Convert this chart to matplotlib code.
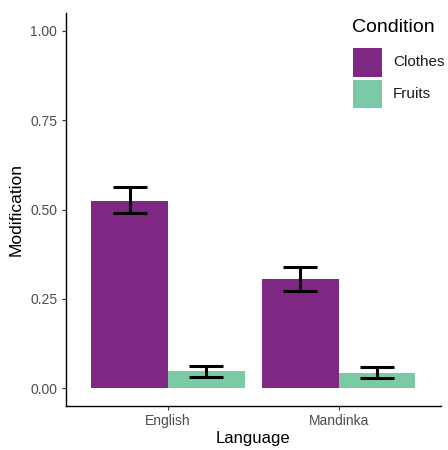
import matplotlib
matplotlib.use("Agg")
import matplotlib.pyplot as plt
from matplotlib.patches import Rectangle
import numpy as np

plt.rcParams['font.family'] = ['Liberation Sans', 'DejaVu Sans']

languages = ["English", "Mandinka"]
conditions = ["Clothes", "Fruits"]
means = {"Clothes": [0.525, 0.305], "Fruits": [0.047, 0.042]}
lower = {"Clothes": [0.490, 0.273], "Fruits": [0.031, 0.028]}
upper = {"Clothes": [0.564, 0.340], "Fruits": [0.063, 0.059]}
colors = {"Clothes": "#7E2884", "Fruits": "#7CCAA5"}
yticks = [0.00, 0.25, 0.50, 0.75, 1.00]
ytick_labels = ["0.00", "0.25", "0.50", "0.75", "1.00"]

W, H = 448, 450
fig = plt.figure(figsize=(W / 100, H / 100), dpi=100)
ax = fig.add_axes([65.7 / W, 1 - 406 / H, (441 - 65.7) / W, (406 - 13) / H])

x = np.arange(1, len(languages) + 1)
bw = 0.45
offsets = {"Clothes": -bw / 2, "Fruits": bw / 2}
for c in conditions:
    xs = x + offsets[c]
    m = np.array(means[c])
    ax.bar(xs, m, width=bw, color=colors[c], linewidth=0, zorder=2)
    yerr = np.vstack([m - np.array(lower[c]), np.array(upper[c]) - m])
    ax.errorbar(xs, m, yerr=yerr, fmt="none", ecolor="black", elinewidth=2.2,
                capsize=12, capthick=2.2, zorder=3)

ax.set_xlim(0.4, 2.6)
ax.set_ylim(-0.05, 1.05)
ax.set_xticks(x)
ax.set_xticklabels(languages)
ax.set_yticks(yticks)
ax.set_yticklabels(ytick_labels)
for s in ["top", "right"]:
    ax.spines[s].set_visible(False)
for s in ["left", "bottom"]:
    ax.spines[s].set_linewidth(1.0)
    ax.spines[s].set_color("black")
ax.tick_params(axis="both", length=3, width=0.8, color="#333333",
               labelcolor="#4D4D4D", labelsize=10, pad=3)
ax.set_xlabel("Language", fontsize=12, color="black", labelpad=2)
ax.set_ylabel("Modification", fontsize=12.5, color="black", labelpad=5)

# legend
fig.text(352 / W, 1 - 28 / H, "Condition", fontsize=14, ha="left", va="center", color="black")
key_y = [(48, 77), (80, 108)]
for (y0, y1), c in zip(key_y, conditions):
    fig.add_artist(Rectangle((353 / W, 1 - y1 / H), 29 / W, (y1 - y0) / H,
                             transform=fig.transFigure, facecolor=colors[c],
                             edgecolor="none"))
    fig.text(393 / W, 1 - ((y0 + y1) / 2) / H, c, fontsize=11, ha="left",
             va="center", color="#1A1A1A")

fig.savefig("out.png", dpi=100)
